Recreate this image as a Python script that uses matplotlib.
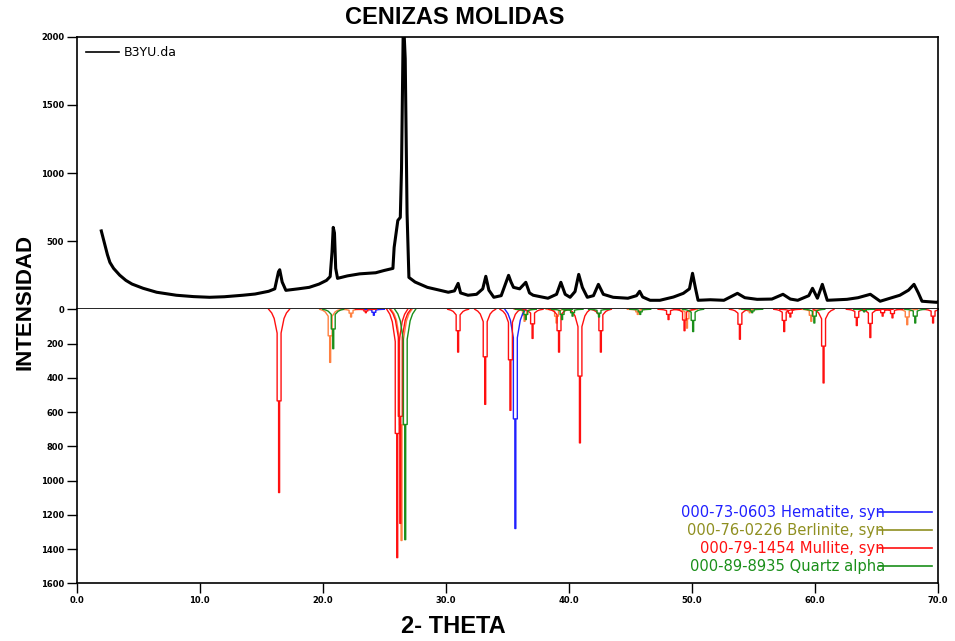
import numpy as np
import matplotlib
matplotlib.use("Agg")
import matplotlib.pyplot as plt
from matplotlib.lines import Line2D

two_theta = [2.0, 2.2, 2.5, 2.7, 3.0, 3.5, 4.0, 4.5, 5.4, 6.5, 8.1, 9.5, 10.8,
             12.0, 13.5, 14.5, 15.6, 16.1, 16.4, 16.5, 16.7, 17.0, 18.0, 18.9,
             19.7, 20.3, 20.6, 20.75, 20.85, 20.95, 21.05, 21.2, 22.0, 23.0,
             24.3, 25.0, 25.7, 25.8, 26.1, 26.3, 26.4, 26.55, 26.7, 26.85,
             27.0, 27.5, 28.5, 29.5, 30.2, 30.7, 31.0, 31.2, 31.8, 32.5, 33.0,
             33.25, 33.5, 33.9, 34.5, 35.1, 35.3, 35.5, 36.0, 36.5, 36.8, 37.1,
             38.3, 39.0, 39.35, 39.7, 40.1, 40.5, 40.8, 41.1, 41.5, 42.0, 42.4,
             42.8, 43.6, 44.8, 45.5, 45.75, 46.0, 46.6, 47.4, 48.5, 49.3, 49.8,
             50.05, 50.3, 50.5, 51.5, 52.6, 53.7, 54.3, 55.3, 56.5, 57.4, 58.0,
             58.6, 59.5, 59.8, 60.2, 60.6, 61.0, 62.6, 63.5, 64.5, 65.3, 66.9,
             67.6, 68.05, 68.4, 68.7, 69.9, 70.0]
counts = [575, 505, 400, 344, 300, 250, 212, 185, 154, 125, 103, 93, 88,
          92, 103, 112, 132, 150, 275, 290, 200, 139, 150, 161,
          185, 212, 240, 418, 601, 560, 300, 227, 245, 260,
          268, 285, 300, 454, 652, 674, 1033, 2150, 1839, 703,
          234, 200, 161, 140, 125, 135, 190, 120, 103, 110, 150,
          242, 140, 88, 100, 249, 200, 161, 150, 198, 120, 103,
          81, 110, 198, 110, 88, 130, 256, 160, 88, 100, 183,
          110, 88, 81, 100, 132, 90, 66, 66, 90, 117, 150,
          264, 150, 66, 70, 66, 117, 85, 73, 75, 110, 75,
          66, 100, 154, 81, 183, 66, 73, 85, 110, 59, 103,
          140, 183, 120, 59, 51, 55]

# reference cards (peak position, relative intensity)
hematite_pos = [24.15, 35.65]
hematite_int = [35, 1280]
berlinite_pos = [20.6, 22.3, 26.4, 36.4, 39.0, 45.6, 49.6, 54.7, 59.7, 67.5]
berlinite_int = [310, 45, 1350, 70, 80, 30, 110, 20, 70, 90]
mullite_pos = [16.45, 23.5, 26.05, 26.3, 31.0, 33.2, 35.25, 37.05, 39.2, 40.9,
               42.6, 48.1, 49.4, 53.9, 57.5, 58.0, 60.7, 63.4, 64.5, 65.5,
               66.3, 69.6]
mullite_int = [1070, 20, 1450, 1250, 250, 555, 590, 170, 250, 780,
               250, 60, 125, 175, 130, 45, 430, 95, 165, 40,
               50, 80]
quartz_pos = [20.85, 26.7, 36.5, 39.45, 40.3, 42.45, 45.8, 50.1, 54.9, 59.95,
              64.0, 68.15]
quartz_int = [230, 1345, 60, 60, 40, 45, 30, 130, 20, 80, 15, 80]

card_labels = ["000-73-0603 Hematite, syn", "000-76-0226 Berlinite, syn",
               "000-79-1454 Mullite, syn", "000-89-8935 Quartz alpha"]

# stick outline used for every reference peak
PROFILE_DX = np.array([-0.85, -0.6, -0.4, -0.25, -0.16, -0.16, -0.04, -0.04,
                       0.04, 0.04, 0.16, 0.16, 0.25, 0.4, 0.6, 0.85])
PROFILE_FR = np.array([0, 0.02, 0.05, 0.1, 0.13, 0.5, 0.5, 1,
                       1, 0.5, 0.5, 0.13, 0.1, 0.05, 0.02, 0])


def outline(pos, inten):
    xs, ys = [], []
    for p, h in zip(pos, inten):
        xs += list(p + PROFILE_DX) + [np.nan]
        ys += list(h * PROFILE_FR) + [np.nan]
    return xs, ys


plt.rcParams["font.family"] = ["DejaVu Sans"]

fig = plt.figure(figsize=(9.55, 6.41), dpi=100)
left, right = 0.0803, 0.9822
ax_top = fig.add_axes([left, 0.5175, right - left, 0.4252])
ax_bot = fig.add_axes([left, 0.0900, right - left, 0.4275])

ax_top.plot(two_theta, counts, color="black", lw=2.2, label="B3YU.da")
ax_top.set_xlim(0, 70)
ax_top.set_ylim(0, 2000)
ax_top.set_yticks([0, 500, 1000, 1500, 2000])
ax_top.set_xticks([])
leg_top = ax_top.legend(loc="upper left", frameon=False, fontsize=9,
                        handlelength=2.6, borderaxespad=0.45,
                        handletextpad=0.4, borderpad=0.3)
leg_top.get_lines()[0].set_linewidth(1.2)

cards = [
    (berlinite_pos, berlinite_int, "#ff8040"),
    (hematite_pos, hematite_int, "#2020ff"),
    (mullite_pos, mullite_int, "#ff1010"),
    (quartz_pos, quartz_int, "#1a8f1a"),
]
for pos, inten, col in cards:
    xs, ys = outline(pos, inten)
    ax_bot.plot(xs, ys, color=col, lw=1.0)

ax_bot.set_xlim(0, 70)
ax_bot.set_ylim(1600, 0)
ax_bot.set_yticks(range(200, 1601, 200))
ax_bot.set_xticks(range(0, 71, 10))
ax_bot.set_xticklabels([f"{v:.1f}" for v in range(0, 71, 10)])

legend_cols = ["#2020ff", "#8f8f20", "#ff1010", "#1a8f1a"]
handles = [Line2D([], [], color=c, lw=1.2) for c in legend_cols]
leg = ax_bot.legend(handles, card_labels, loc="lower right", frameon=False,
                    fontsize=10.6, markerfirst=False, handlelength=3.6,
                    handletextpad=-0.4, labelspacing=0.2,
                    borderaxespad=0.0, borderpad=0.0,
                    bbox_to_anchor=(0.993, 0.035))
for txt, c in zip(leg.get_texts(), legend_cols):
    txt.set_color(c)

ax_bot.spines["top"].set_visible(False)
for ax in (ax_top, ax_bot):
    for s in ("left", "right", "top", "bottom"):
        ax.spines[s].set_linewidth(1.2)
    ax.tick_params(direction="out", length=7, width=1.0, labelsize=6, pad=2)
    for lab in ax.get_yticklabels() + ax.get_xticklabels():
        lab.set_fontweight("bold")

fig.text(0.476, 0.972, "CENIZAS MOLIDAS", ha="center", va="center",
         fontsize=17, fontweight="bold", family="Liberation Sans")
fig.text(0.026, 0.529, "INTENSIDAD", ha="center", va="center", rotation=90,
         fontsize=16, fontweight="bold", family="Liberation Sans")
fig.text(0.475, 0.023, "2- THETA", ha="center", va="center",
         fontsize=17, fontweight="bold", family="Liberation Sans")

fig.savefig("out.png", dpi=100)
